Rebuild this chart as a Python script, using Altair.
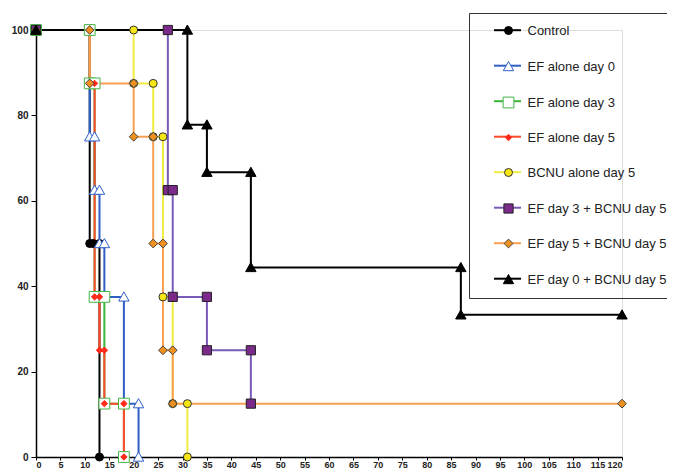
import altair as alt
import pandas as pd

names = ["Control", "EF alone day 0", "EF alone day 3", "EF alone day 5",
         "BCNU alone day 5", "EF day 3 + BCNU day 5", "EF day 5 + BCNU day 5",
         "EF day 0 + BCNU day 5"]

control_x = [0, 11, 11, 11.7, 13, 13]
control_y = [100, 100, 50, 50, 50, 0]

ef0_x = [0, 11, 11, 12, 12, 13, 13, 14, 14, 18, 18, 21, 21]
ef0_y = [100, 100, 75, 75, 62.5, 62.5, 50, 50, 37.5, 37.5, 12.5, 12.5, 0]

ef3_x = [0, 11, 11, 12, 12, 14, 14, 18, 18]
ef3_y = [100, 100, 87.5, 87.5, 37.5, 37.5, 12.5, 12.5, 0]

ef5_x = [0, 11, 11, 12, 12, 13, 13, 14, 14, 18, 18]
ef5_y = [100, 100, 87.5, 87.5, 37.5, 37.5, 25, 25, 12.5, 12.5, 0]

bcnu_x = [0, 20, 20, 24, 24, 26, 26, 28, 28, 31, 31]
bcnu_y = [100, 100, 87.5, 87.5, 75, 75, 37.5, 37.5, 12.5, 12.5, 0]

ef3b_x = [0, 27, 27, 28, 28, 35, 35, 44, 44]
ef3b_y = [100, 100, 62.5, 62.5, 37.5, 37.5, 25, 25, 12.5]

ef5b_x = [0, 11, 11, 20, 20, 24, 24, 26, 26, 28, 28, 120]
ef5b_y = [100, 100, 87.5, 87.5, 75, 75, 50, 50, 25, 25, 12.5, 12.5]

ef0b_x = [0, 31, 31, 35, 35, 44, 44, 87, 87, 120]
ef0b_y = [100, 100, 77.8, 77.8, 66.7, 66.7, 44.4, 44.4, 33.3, 33.3]

x_ticks = list(range(0, 121, 5))
y_ticks = [0, 20, 40, 60, 80, 100]

series_x = [control_x, ef0_x, ef3_x, ef5_x, bcnu_x, ef3b_x, ef5b_x, ef0b_x]
series_y = [control_y, ef0_y, ef3_y, ef5_y, bcnu_y, ef3b_y, ef5b_y, ef0b_y]

rows = []
for name, xs, ys in zip(names, series_x, series_y):
    for i, (xv, yv) in enumerate(zip(xs, ys)):
        rows.append({"series": name, "series_b": name + " ", "day": xv, "surv": yv, "idx": i})
df = pd.DataFrame(rows)
names_b = [n + " " for n in names]

line_colors = ["#000000", "#2F5FC4", "#3CB43C", "#FF4A2A", "#F0EC40",
               "#7A5AB8", "#F8A050", "#000000"]
fills = ["#000000", "#FFFFFF", "#FFFFFF", "#FF2A1A", "#F5E614",
         "#7B2A8A", "#F0901E", "#000000"]
strokes = ["#000000", "#3060C8", "#44B444", "#FF2A1A", "#333333",
           "#222222", "#444444", "#000000"]
tri = "M0,-1.25L1.3,1.05L-1.3,1.05Z"
shapes = ["circle", tri, "M-1.35,-1.35H1.35V1.35H-1.35Z",
          "M0,-0.8L0.8,0L0,0.8L-0.8,0Z", "circle",
          "M-1.15,-1.15H1.15V1.15H-1.15Z", "M0,-1.1L1.1,0L0,1.1L-1.1,0Z", tri]

FONT = "Liberation Sans"

# line-segment legend (no labels, no box), aligned under the marker legend
legA = alt.Legend(orient="none", legendX=433, legendY=-25.3, title=None,
                  padding=11, symbolOffset=13, symbolType="stroke", symbolSize=729,
                  symbolStrokeWidth=2, labelFontSize=13, labelFont=FONT,
                  labelExpr="''", rowPadding=13.5, labelOffset=3)
# marker legend with the labels and the frame
legB = alt.Legend(orient="none", legendX=433, legendY=-17, title=None,
                  padding=11, symbolOffset=22, symbolSize=64, symbolStrokeWidth=1,
                  labelFontSize=13, labelFont=FONT, labelColor="#222222",
                  rowPadding=21, labelOffset=12.5, labelLimit=300,
                  strokeColor="#333333")

xaxis = alt.Axis(values=x_ticks, title=None, grid=False, tickSize=3, labelFontSize=9,
                 labelFontWeight="bold", labelColor="#222222", labelPadding=0,
                 labelOverlap=False, labelSeparation=0, labelBound=False,
                 domainColor="#000000", tickColor="#000000",
                 domainWidth=1.5, labelFont=FONT, format="d")
yaxis = alt.Axis(values=y_ticks, title=None, grid=False, tickSize=5, labelFontSize=10,
                 labelFontWeight="bold", labelColor="#222222", labelPadding=3,
                 domainColor="#000000", tickColor="#000000", domainWidth=1.5,
                 labelFont=FONT)

xenc = alt.X("day:Q", scale=alt.Scale(domain=[0, 120], nice=False), axis=xaxis)
yenc = alt.Y("surv:Q", scale=alt.Scale(domain=[0, 100], nice=False), axis=yaxis)

lines = alt.Chart(df).mark_line(strokeWidth=2).encode(
    x=xenc,
    y=yenc,
    color=alt.Color("series:N", scale=alt.Scale(domain=names, range=line_colors), legend=legA),
    order=alt.Order("idx:Q"),
)

points = alt.Chart(df).mark_point(opacity=1, size=64, strokeWidth=1).encode(
    x=xenc,
    y=yenc,
    shape=alt.Shape("series_b:N", scale=alt.Scale(domain=names_b, range=shapes), legend=legB),
    fill=alt.Fill("series_b:N", scale=alt.Scale(domain=names_b, range=fills), legend=legB),
    stroke=alt.Stroke("series_b:N", scale=alt.Scale(domain=names_b, range=strokes), legend=legB),
)

chart = alt.layer(lines, points).properties(
    width=586, height=427,
    padding={"left": 28, "top": 22, "right": 45, "bottom": 14},
    autosize=alt.AutoSizeParams(type="none"),
).configure_view(strokeWidth=0).configure(font=FONT).configure_axis(labelOverlap=False)

chart.save("out.html", embed_options={"renderer": "svg", "actions": False})
